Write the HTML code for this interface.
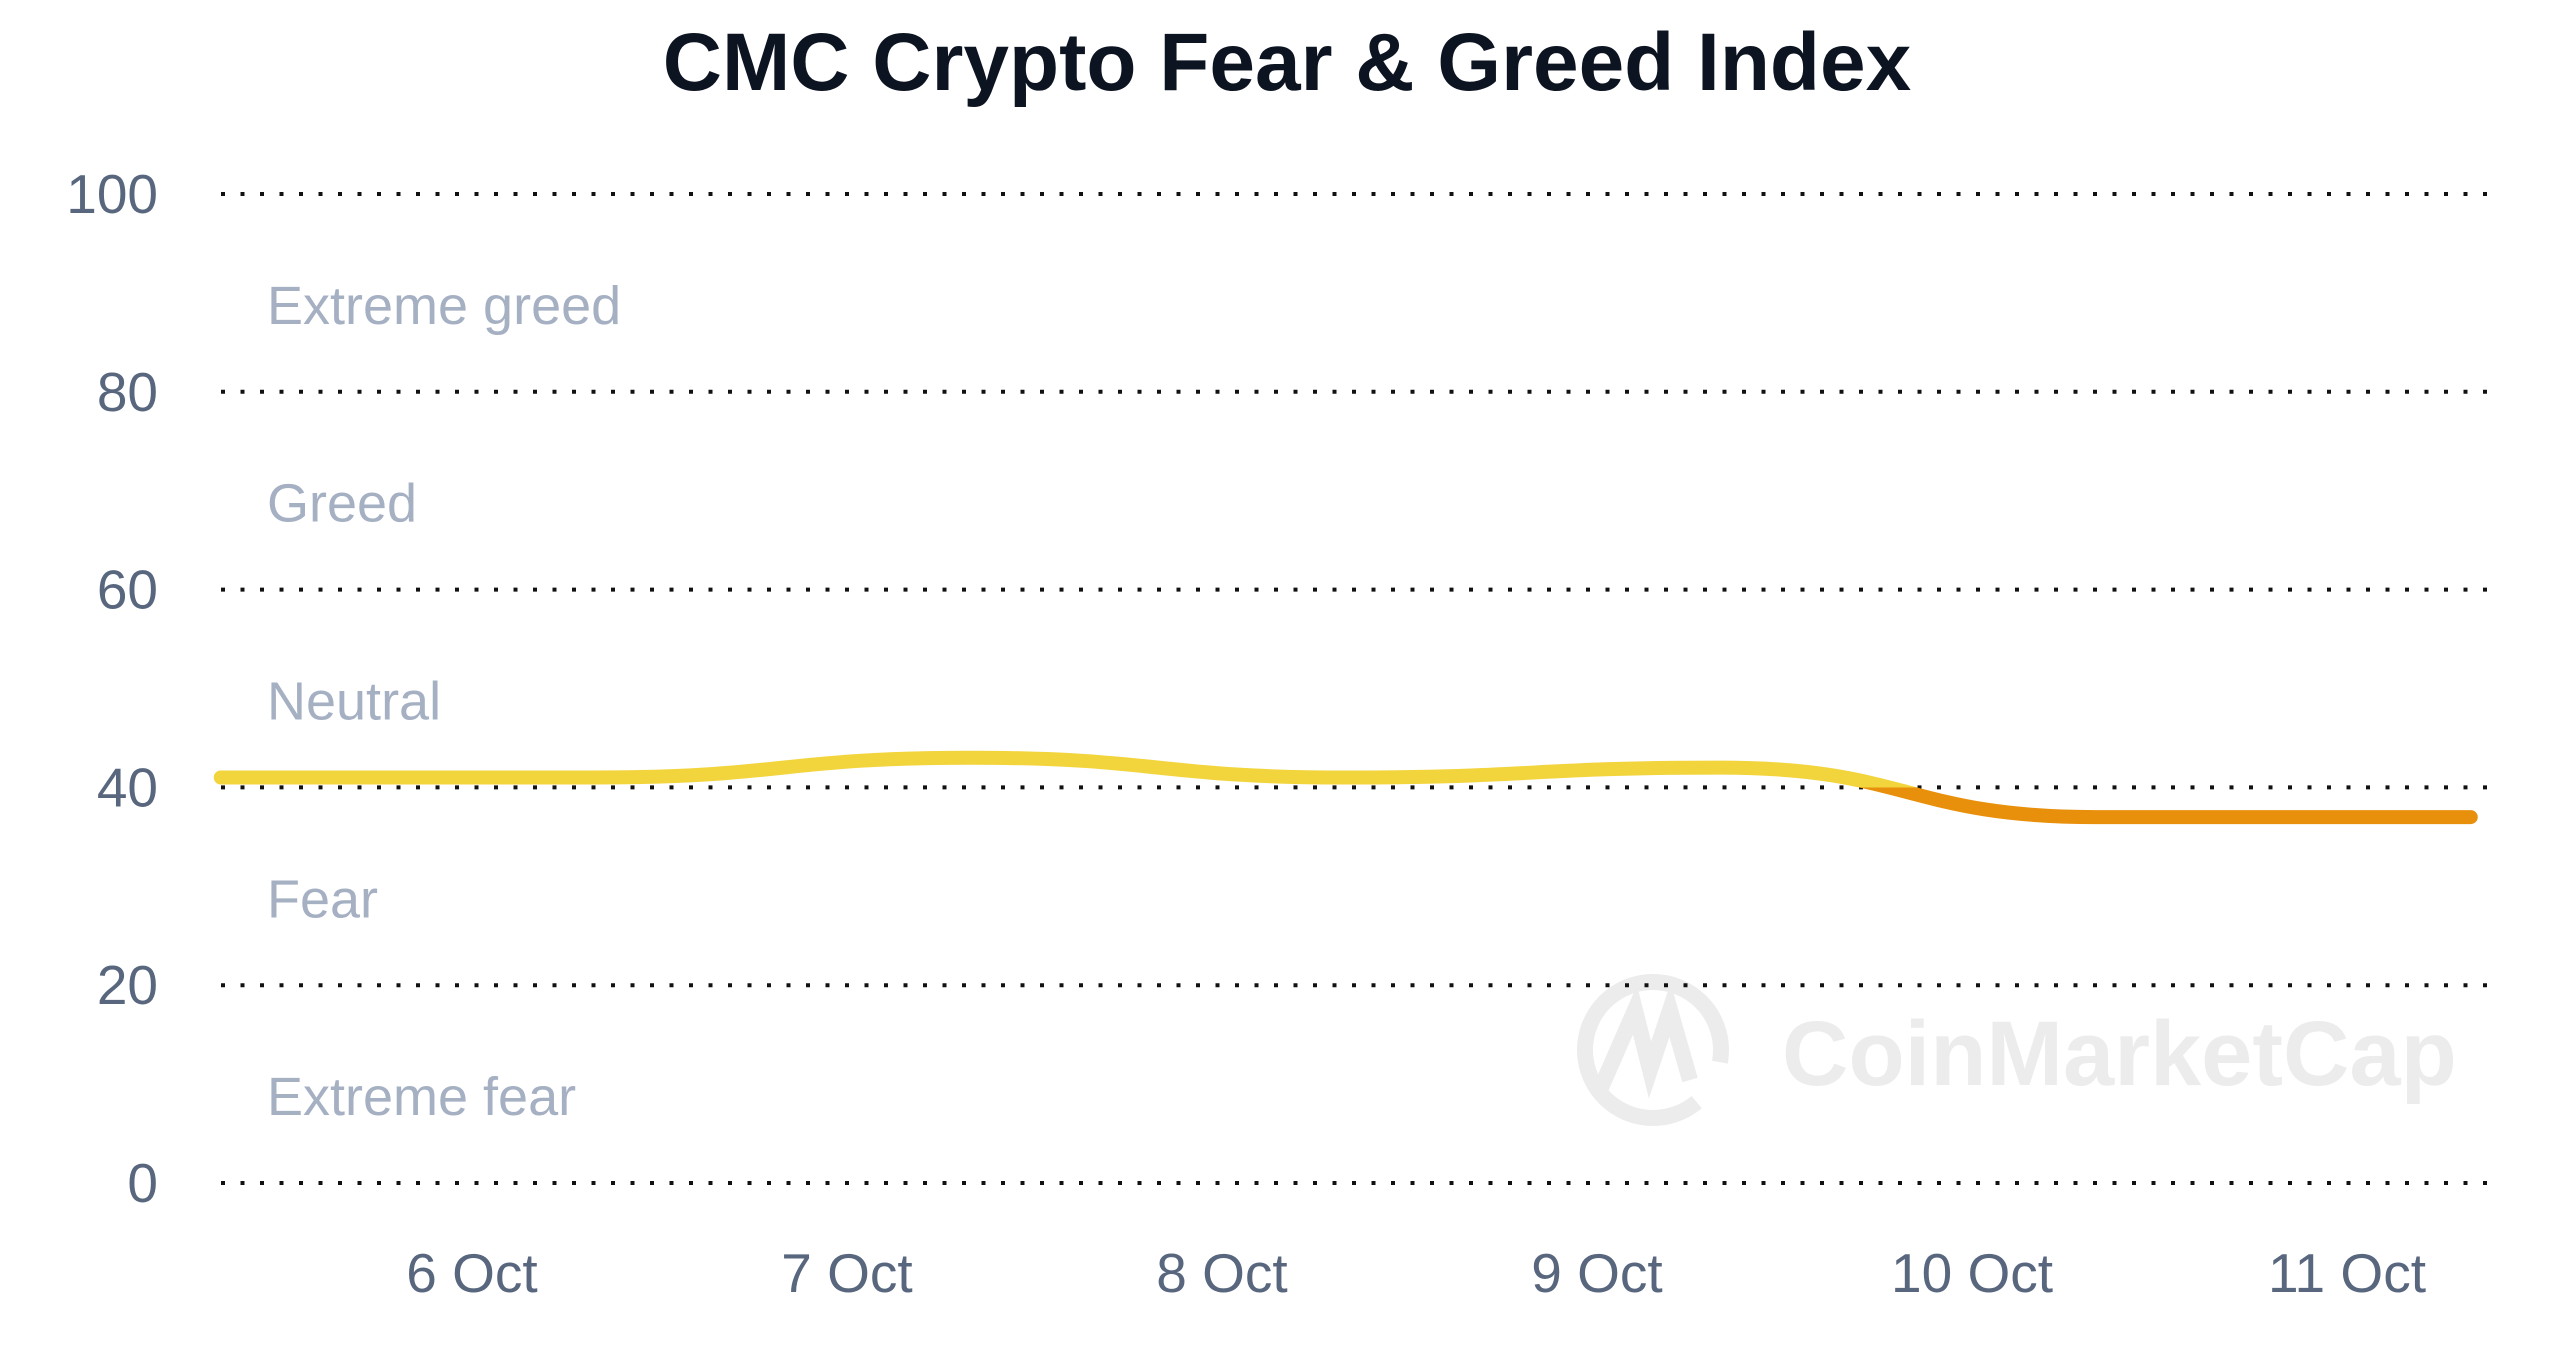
<!DOCTYPE html>
<html><head><meta charset="utf-8"><style>
html,body{margin:0;padding:0;background:#fff;}
svg{display:block;font-family:"Liberation Sans",Arial,sans-serif;}
</style></head><body>
<svg id="chart" width="2560" height="1365" viewBox="0 0 2560 1365">
<text x="1287" y="90" text-anchor="middle" font-size="82" font-weight="bold" fill="#0d1421">CMC Crypto Fear &amp; Greed Index</text>
<g id="watermark" fill="none" stroke="#ececec" stroke-width="16">
<circle cx="1653" cy="1050" r="68" stroke-dasharray="380 48" transform="rotate(50 1653 1050)"/>
<path d="M1600 1090 L1635 1010 L1650 1070 L1670 1010 L1690 1080"/>
<text x="1782" y="1085" font-size="92" font-weight="bold" fill="#ececec" stroke="none">CoinMarketCap</text>
</g>
<g id="grid"></g><g id="bands"></g><g id="xlabels"></g>
<defs><linearGradient id="lg" gradientUnits="userSpaceOnUse" x1="0" y1="0" x2="0" y2="1365"><stop id="s1" offset="0" stop-color="#f2d43d"/><stop id="s2" offset="0" stop-color="#f2d43d"/><stop id="s3" offset="0" stop-color="#e8900c"/><stop offset="1" stop-color="#e8900c"/></linearGradient></defs>
<path id="line" fill="none" stroke="url(#lg)" stroke-width="14" stroke-linecap="round"/>
</svg>
<script>
const yTicks=[0,20,40,60,80,100];
const bandLabels=["Extreme fear","Fear","Neutral","Greed","Extreme greed"];
const dayLabels=["6 Oct","7 Oct","8 Oct","9 Oct","10 Oct","11 Oct"];
const times=[5.33,6.33,7.33,8.33,9.33,10.33,11.33];
const values=[41,41,43,41,42,37,37];
const NS="http://www.w3.org/2000/svg";
const X0=221,X1=2492;
function y(v){return 1183-(1183-194)*v/100;}
function x(t){return 472+(t-6)*375;}
function el(tag,attrs,parent){const e=document.createElementNS(NS,tag);for(const k in attrs)e.setAttribute(k,attrs[k]);parent.appendChild(e);return e;}
const grid=document.getElementById('grid');
yTicks.forEach(v=>{
  const l=el('line',{x1:X0,x2:X1,y1:y(v),y2:y(v),stroke:'#111','stroke-width':4,'stroke-dasharray':'4 15.5'},grid);
  
  
  const t=el('text',{x:158,y:y(v)+19,'text-anchor':'end','font-size':55,fill:'#58667e'},grid);
  t.textContent=v;
  
  
});
const bands=document.getElementById('bands');
bandLabels.forEach((b,i)=>{
  const t=el('text',{x:267,y:y(i*20+10)+31,'font-size':54,fill:'#a6b0c3'},bands);
  t.textContent=b;
  
  
});
const xl=document.getElementById('xlabels');
dayLabels.forEach((d,i)=>{
  const t=el('text',{x:x(6+i),y:1292,'text-anchor':'middle','font-size':55,fill:'#58667e'},xl);
  t.textContent=d;
  
  
});
const px=times.map(x),py=values.map(y);
let d='M'+px[0]+' '+py[0];
for(let i=1;i<px.length;i++){const mx=(px[i-1]+px[i])/2;d+=' C'+mx+' '+py[i-1]+' '+mx+' '+py[i]+' '+px[i]+' '+py[i];}
document.getElementById('line').setAttribute('d',d);
const off=y(40)/1365;
document.getElementById('s1').setAttribute('offset',off);
document.getElementById('s2').setAttribute('offset',off);
document.getElementById('s3').setAttribute('offset',off);
</script>
</body></html>
